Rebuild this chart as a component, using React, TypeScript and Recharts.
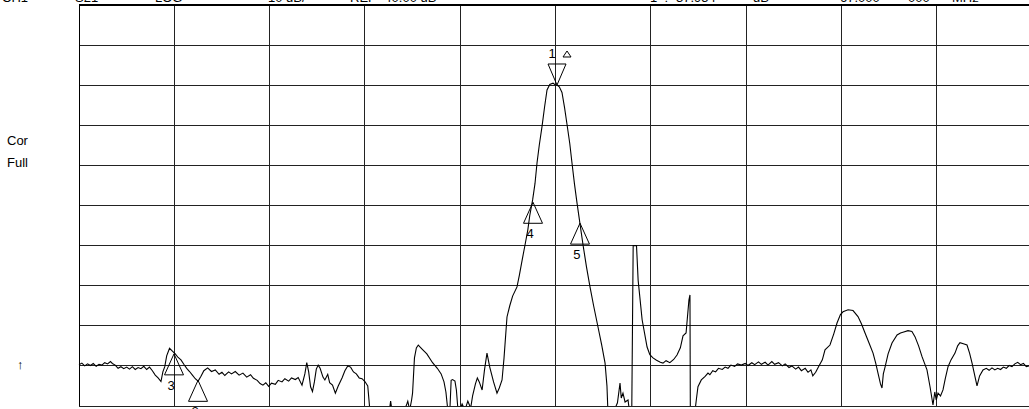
import React from "react";
import {
  CartesianGrid,
  Line,
  LineChart,
  ReferenceDot,
  ReferenceLine,
  XAxis,
  YAxis,
} from "recharts";

// analyzer screen: 10 div x 10 div, 10 dB/div, span 17..117 MHz
const FREQ_TICKS = [17, 27, 37, 47, 57, 67, 77, 87, 97, 107, 117];
const LEVEL_TICKS = [-80, -70, -60, -50, -40, -30, -20, -10, 0, 10, 20];

// [MHz, dB]
const TRACE: [number, number][] = [
  [17.0, -69.7], [17.3, -69.3], [17.6, -70.0], [17.9, -69.5], [18.2, -69.9], [18.5, -69.4],
  [18.8, -70.1], [19.1, -69.6], [19.4, -69.8], [19.7, -69.2], [20.0, -69.5], [20.3, -68.9],
  [20.5, -69.4], [20.8, -69.8], [21.1, -70.6], [21.4, -70.2], [21.7, -70.7], [22.0, -70.3],
  [22.3, -70.8], [22.6, -70.2], [22.9, -70.9], [23.2, -70.4], [23.5, -70.7], [23.8, -70.1],
  [24.1, -70.9], [24.4, -70.3], [24.7, -71.2], [25.0, -72.3], [25.3, -73.0], [25.6, -73.9],
  [25.8, -71.5], [26.0, -70.2], [26.2, -67.5], [26.5, -65.6], [26.8, -66.3], [27.1, -67.0],
  [27.4, -67.9], [27.7, -68.5], [28.0, -69.6], [28.3, -70.6], [28.6, -71.4], [28.9, -72.3],
  [29.2, -73.2], [29.5, -73.8], [29.8, -72.6], [30.1, -71.2], [30.5, -70.5], [30.9, -71.4],
  [31.3, -71.0], [31.7, -72.1], [32.0, -71.6], [32.3, -72.4], [32.7, -71.5], [33.0, -72.0],
  [33.4, -71.4], [33.8, -72.3], [34.2, -71.8], [34.6, -72.8], [35.0, -72.2], [35.3, -73.1],
  [35.7, -73.6], [36.0, -74.4], [36.3, -74.8], [36.6, -74.2], [36.9, -75.1], [37.2, -74.3],
  [37.6, -74.6], [37.9, -73.6], [38.3, -74.0], [38.6, -73.2], [39.0, -73.8], [39.3, -73.0],
  [39.7, -73.4], [40.0, -72.9], [40.4, -74.8], [40.7, -72.0], [40.9, -69.2], [41.1, -71.5],
  [41.3, -75.2], [41.5, -76.4], [41.7, -74.0], [41.9, -70.8], [42.1, -69.8], [42.3, -70.6],
  [42.6, -72.8], [42.8, -73.5], [43.1, -72.1], [43.3, -74.2], [43.6, -74.8], [43.9, -76.8],
  [44.2, -75.0], [44.6, -73.0], [44.9, -71.2], [45.2, -70.0], [45.5, -70.3], [45.8, -71.5],
  [46.1, -72.0], [46.4, -73.0], [46.7, -73.2], [47.0, -73.9], [47.3, -75.0], [47.5, -80.5],
  [47.8, -83], [48.5, -83], [49.6, -80.5], [49.7, -78.8], [49.9, -82], [51.0, -82],
  [51.4, -79.5], [51.5, -78.8], [51.7, -81], [51.9, -78.5], [52.0, -76.8], [52.2, -68],
  [52.4, -65.5], [52.6, -64.8], [53.0, -65.8], [53.5, -67.0], [54.1, -69.2], [54.6, -70.6],
  [55.0, -72.0], [55.3, -74.0], [55.5, -76.5], [55.7, -81], [55.9, -82], [56.05, -73.6],
  [56.2, -73.4], [56.45, -73.8], [56.6, -76], [56.8, -82], [57.2, -79.5], [57.5, -81],
  [57.8, -78.8], [58.1, -80.5], [58.3, -77.5], [58.6, -74.5], [58.8, -73.0], [59.0, -74.0],
  [59.3, -76.0], [59.55, -71], [59.81, -66.8], [60.1, -70.3], [60.5, -74], [60.86, -76.8],
  [61.1, -75.5], [61.39, -73.5], [61.6, -68], [61.91, -57.8], [62.2, -55.0], [62.5, -52.6],
  [62.96, -50.3], [63.2, -47.5], [63.5, -43.6], [63.8, -39.85], [64.1, -36.0], [64.3, -32.5],
  [64.6, -28.6], [64.85, -24.5], [65.06, -19.4], [65.3, -14.9], [65.58, -10.4], [65.85, -5.5],
  [66.11, -1.2], [66.4, 0.2], [66.74, 0.5], [66.95, 0.1], [67.16, 0.05], [67.4, -0.4],
  [67.68, -1.8], [67.95, -5.6], [68.21, -9.8], [68.5, -14.6], [68.73, -19.4], [69.0, -24.8],
  [69.26, -29.4], [69.57, -34.6], [69.89, -39.85], [70.25, -45.3], [70.62, -50.3], [71.0, -55.0],
  [71.46, -60.3], [71.85, -64.8], [72.2, -69.3], [72.4, -75], [72.51, -82], [73.0, -82],
  [73.5, -79.2], [73.77, -74.3], [73.9, -78], [74.08, -76.8], [74.3, -79], [74.61, -78.5],
  [74.8, -82], [75.0, -82], [75.15, -40.0], [75.5, -40.0], [75.67, -48.6], [76.09, -58.5],
  [76.61, -65.3], [76.9, -67.2], [77.23, -68.0], [77.6, -68.6], [78.0, -69.1], [78.28, -69.3],
  [78.6, -68.7], [79.0, -69.2], [79.4, -68.4], [79.75, -67.3], [80.1, -65.5], [80.38, -62.5],
  [80.7, -61.8], [81.0, -53.6], [81.11, -52.3], [81.15, -82], [81.6, -82], [81.8, -78],
  [81.95, -75.2], [82.3, -73.5], [82.7, -72.6], [83.0, -71.8], [83.2, -72.2], [83.5, -71.2],
  [83.8, -71.5], [84.1, -70.6], [84.5, -70.9], [84.8, -70.3], [85.1, -70.6], [85.4, -69.8],
  [85.8, -70.1], [86.1, -69.5], [86.5, -69.8], [86.9, -69.4], [87.2, -69.9], [87.6, -69.2],
  [87.9, -69.7], [88.3, -69.0], [88.6, -69.6], [89.0, -69.1], [89.3, -69.8], [89.7, -68.9],
  [90.0, -69.6], [90.4, -69.2], [90.8, -70.0], [91.1, -69.5], [91.5, -70.4], [91.8, -70.0],
  [92.2, -70.8], [92.5, -70.3], [92.8, -71.2], [93.2, -70.6], [93.5, -71.6], [93.8, -71.0],
  [94.0, -72.5], [94.3, -71.6], [94.6, -70.2], [95.0, -68.5], [95.28, -66.0], [95.8, -64.8],
  [96.2, -62.0], [96.54, -59.3], [96.9, -57.2], [97.17, -56.5], [97.7, -56.0], [98.22, -56.2],
  [98.74, -57.7], [99.1, -59.5], [99.48, -61.8], [99.9, -64.3], [100.32, -66.8], [100.6, -69.3],
  [100.84, -71.8], [101.1, -74.5], [101.26, -75.5], [101.4, -72.0], [101.58, -70.3], [101.9, -67.0],
  [102.31, -64.3], [102.84, -62.3], [103.2, -61.8], [103.46, -61.6], [103.99, -61.2], [104.4, -61.4],
  [104.72, -62.7], [105.1, -65.0], [105.46, -67.7], [105.98, -71.0], [106.3, -75.2], [106.61, -79.75],
  [106.8, -76.5], [106.95, -78.5], [107.14, -76.8], [107.4, -77.5], [107.66, -76.0], [107.9, -73.2],
  [108.19, -70.2], [108.5, -68.5], [108.92, -66.8], [109.2, -65.0], [109.44, -64.2], [109.8, -64.5],
  [110.18, -64.8], [110.45, -66.8], [110.71, -69.3], [111.0, -72.5], [111.23, -75.0], [111.5, -72.5],
  [111.86, -71.0], [112.2, -70.6], [112.5, -71.1], [112.8, -70.5], [113.1, -71.0], [113.4, -70.6],
  [113.7, -70.9], [114.0, -70.3], [114.3, -70.6], [114.6, -69.9], [114.9, -70.2], [115.2, -69.5],
  [115.5, -69.1], [115.8, -69.7], [116.1, -69.4], [116.4, -70.2], [116.7, -70.0], [117.0, -70.8],
];

const MARKER_IDS = ["1", "2", "3", "4", "5"];
const MARKER_FREQS = [67.16, 29.49, 26.97, 64.64, 69.57];
const MARKER_LEVELS = [0.05, -73.6, -67.0, -29.2, -34.4];

const HEADER_TEXTS = ["CH1", "S21", "LOG", "10 dB/", "REF", "-40.00 dB", "1_: -37.954", "dB", "67.000", "000", "MHz"];
const SIDE_TEXTS = ["Cor", "Full"];
const REF_ARROW = "↑";

const data = TRACE.map(([f, db]) => ({ f, db }));

const FONT = '"Liberation Sans", Arial, sans-serif';
const headerX = [2, 75, 155, 268, 350, 380, 650, 753, 840, 908, 952];

function MarkerShape(props: any) {
  const { cx, cy, label } = props;
  if (cx == null || cy == null) return null;
  if (label === "1") {
    return (
      <g>
        <polygon points={`${cx},${cy} ${cx - 9},${cy - 21} ${cx + 9},${cy - 21}`} fill="none" stroke="#000" />
        <text x={cx - 5} y={cy - 27} fontSize={13} fontFamily={FONT} textAnchor="middle" fill="#000">
          {label}
        </text>
        <polygon points={`${cx + 10},${cy - 34} ${cx + 6},${cy - 28} ${cx + 14},${cy - 28}`} fill="none" stroke="#000" />
      </g>
    );
  }
  return (
    <g>
      <polygon points={`${cx},${cy} ${cx - 9.5},${cy + 21} ${cx + 9.5},${cy + 21}`} fill="none" stroke="#000" />
      <text x={cx - 3} y={cy + 36} fontSize={13} fontFamily={FONT} textAnchor="middle" fill="#000">
        {label}
      </text>
    </g>
  );
}

export default function App() {
  return (
    <div style={{ position: "relative", width: 1029, height: 409, overflow: "hidden", background: "#fff" }}>
      <style>{"body{margin:0}"}</style>
      <LineChart width={1040} height={409} data={data} margin={{ top: 5, right: 8, bottom: 3, left: 79 }}>
        <CartesianGrid stroke="#222" strokeWidth={1} shapeRendering="crispEdges" />
        <XAxis dataKey="f" type="number" domain={[17, 117]} ticks={FREQ_TICKS} hide />
        <YAxis type="number" domain={[-80, 20]} ticks={LEVEL_TICKS} allowDataOverflow hide />
        <ReferenceLine y={20} stroke="#000" strokeWidth={2} />
        <ReferenceLine x={17} stroke="#000" strokeWidth={1} shapeRendering="crispEdges" />
        <Line
          dataKey="db"
          type="linear"
          stroke="#000"
          strokeWidth={1.1}
          dot={false}
          isAnimationActive={false}
        />
        {MARKER_IDS.map((id, i) => (
          <ReferenceDot
            key={id}
            x={MARKER_FREQS[i]}
            y={MARKER_LEVELS[i]}
            ifOverflow="visible"
            shape={(p: any) => <MarkerShape {...p} label={id} />}
          />
        ))}
      </LineChart>
      <svg width={1029} height={409} style={{ position: "absolute", left: 0, top: 0, pointerEvents: "none" }}>
        {HEADER_TEXTS.map((t, i) => (
          <text key={t + i} x={headerX[i]} y={2} fontSize={13} fontFamily={FONT} fill="#000">
            {t}
          </text>
        ))}
        <text x={7} y={145} fontSize={13} fontFamily={FONT} fill="#000">{SIDE_TEXTS[0]}</text>
        <text x={7} y={167} fontSize={13} fontFamily={FONT} fill="#000">{SIDE_TEXTS[1]}</text>
        <text x={17} y={369} fontSize={13} fontFamily={FONT} fill="#000">{REF_ARROW}</text>
      </svg>
    </div>
  );
}
